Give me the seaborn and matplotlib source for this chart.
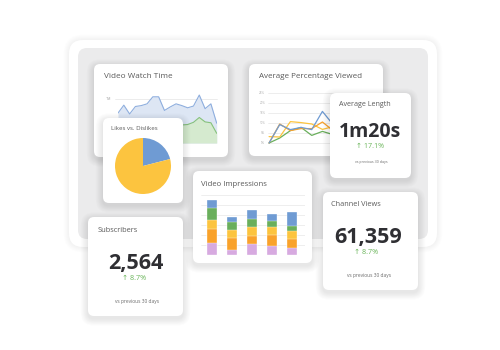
import matplotlib
matplotlib.use("Agg")
import matplotlib.pyplot as plt
from matplotlib.patches import FancyBboxPatch
import numpy as np
import pandas as pd
import seaborn as sns

sns.set_theme(style="white")
plt.rcParams['font.family'] = ['Open Sans', 'DejaVu Sans']

# ---------------- data ----------------
watch_days = list(range(18))
watch_blue = [0.68, 0.86, 0.66, 0.83, 0.85, 0.89, 1.05, 1.05, 0.74, 0.82,
              0.89, 0.85, 0.80, 0.84, 1.09, 0.78, 0.89, 0.45]
watch_green = [0.35, 0.40, 0.33, 0.38, 0.40, 0.42, 0.45, 0.43, 0.36, 0.38,
               0.40, 0.41, 0.42, 0.47, 0.58, 0.48, 0.46, 0.22]
watch_ticks = [1.0]
watch_ticklabels = ["1M"]

apv_points = list(range(7))
apv_blue = [0.0, 9.2, 6.7, 7.8, 6.7, 15.8, 9.2]
apv_orange = [0.0, 9.5, 6.2, 7.2, 7.2, 10.5, 6.2]
apv_yellow = [3.2, 3.0, 10.7, 10.2, 9.5, 6.8, 8.2]
apv_green = [0.0, 2.5, 6.2, 7.8, 3.8, 5.8, 4.2]
apv_ticks = [0, 5, 10, 15, 20, 25]
apv_ticklabels = ["0%", "5%", "10%", "15%", "20%", "25%"]

likes_labels = ["Dislikes", "Likes"]
likes_values = [21, 79]

imp_bars = ["W1", "W2", "W3", "W4", "W5"]
imp_segments = ["purple", "orange", "yellow", "green", "blue"]
imp_purple = [12, 5, 11, 9, 7]
imp_orange = [14, 12, 8, 11, 9]
imp_yellow = [9, 8, 9, 8, 8]
imp_green = [12, 8, 8, 6, 5]
imp_blue = [8, 5, 9, 7, 14]

kpi_titles = ["Average Length", "Subscribers", "Channel Views"]
kpi_values = ["1m20s", "2,564", "61,359"]
kpi_changes = ["\u2191 17.1%", "\u2191 8.7%", "\u2191 8.7%"]
kpi_note = "vs previous 30 days"

# ---------------- colours ----------------
BLUE = "#6f9bd3"
GREEN = "#6aaf5c"
YELLOW = "#fcc43f"
ORANGE = "#f9a22b"
PURPLE = "#d7aae0"
UP = "#6ab55a"
TITLE = "#5a5a5a"
DARK = "#2f2f33"

W, H = 500, 350
fig = plt.figure(figsize=(5, 3.5), dpi=100)
fig.patch.set_facecolor("white")


def rect(x0, y0, x1, y1):
    return [x0 / W, 1 - y1 / H, (x1 - x0) / W, (y1 - y0) / H]


def overlay(z):
    ax = fig.add_axes([0, 0, 1, 1])
    ax.set_xlim(0, W)
    ax.set_ylim(H, 0)
    ax.axis("off")
    ax.patch.set_alpha(0)
    ax.set_zorder(z)
    return ax


def card(ax, x0, y0, x1, y1, r=6, fc="white", shadow=True, layers=8, a=0.010, dy=2.5):
    if shadow:
        for i in range(layers, 0, -1):
            e = i * 0.9
            ax.add_patch(FancyBboxPatch((x0 - e, y0 - e + dy), (x1 - x0) + 2 * e, (y1 - y0) + 2 * e,
                                        boxstyle=f"round,pad=0,rounding_size={r + e}",
                                        fc="black", ec="none", alpha=a))
    ax.add_patch(FancyBboxPatch((x0, y0), x1 - x0, y1 - y0,
                                boxstyle=f"round,pad=0,rounding_size={r}", fc=fc, ec="none"))


def chart_ax(x0, y0, x1, y1, z=1):
    ax = fig.add_axes(rect(x0, y0, x1, y1))
    ax.patch.set_alpha(0)
    ax.set_zorder(z)
    for s in ax.spines.values():
        s.set_visible(False)
    return ax


# ---------------- background layer ----------------
bg = overlay(0)
card(bg, 69, 40, 437, 247, r=14, layers=6, a=0.008, dy=0)
card(bg, 78, 48, 428, 239, r=9, fc="#ebebec", shadow=False)

card(bg, 94, 64, 228, 157)      # Video Watch Time
card(bg, 249, 64, 383, 156)     # Average Percentage Viewed
card(bg, 193, 171, 312, 263)    # Video Impressions
card(bg, 88, 217, 183, 316)     # Subscribers
card(bg, 323, 192, 418, 290)    # Channel Views

bg.text(104, 77, "Video Watch Time", fontsize=5.9, color=TITLE, va="center", ha="left")
bg.text(259, 77, "Average Percentage Viewed", fontsize=5.8, color=TITLE, va="center", ha="left")
bg.text(201, 184, "Video Impressions", fontsize=5.6, color=TITLE, va="center", ha="left")

for (tx, ty, cx, vy, py, ny), title, val, chg in zip(
        [(98, 230, 136, 263, 278, 301), (331, 205, 368, 238, 253, 276)],
        kpi_titles[1:], kpi_values[1:], kpi_changes[1:]):
    bg.text(tx, ty, title, fontsize=5.3, color=TITLE, va="center", ha="left")
    bg.text(cx, vy, val, fontsize=15.5, color=DARK, fontweight="bold", va="center", ha="center")
    bg.text(cx - 2, py, chg, fontsize=5.2, color=UP, va="center", ha="center",
            family=["Open Sans", "DejaVu Sans"])
    bg.text(cx + 1, ny, kpi_note, fontsize=3.5, color="#6a6a6a", va="center", ha="center")

# ---------------- Video Watch Time ----------------
ax_w = chart_ax(118, 92.4, 216.7, 143)
wdf = pd.DataFrame({"day": watch_days, "views": watch_blue, "likes": watch_green})
ax_w.fill_between(wdf["day"], 0, wdf["views"], color="#dde6f4", lw=0)
ax_w.fill_between(wdf["day"], 0, wdf["likes"], color="#d5eacf", lw=0)
sns.lineplot(data=wdf, x="day", y="views", ax=ax_w, color="#8eaede", lw=0.8)
sns.lineplot(data=wdf, x="day", y="likes", ax=ax_w, color="#86c27b", lw=0.8)
ax_w.set_xlim(0, 17)
ax_w.set_ylim(0, 1.15)
ax_w.set_yticks(watch_ticks)
ax_w.set_yticklabels(watch_ticklabels, fontsize=2.6, color="#999999")
ax_w.set_xticks([])
ax_w.tick_params(axis="y", length=0, pad=5)
ax_w.axhline(1.0, color="#e4e4e4", lw=0.5, zorder=0, xmin=-0.03, clip_on=False)
ax_w.set_xlabel("")
ax_w.set_ylabel("")

# ---------------- Average Percentage Viewed ----------------
ax_a = chart_ax(268, 93, 375, 143)
adf = pd.DataFrame({
    "point": apv_points * 4,
    "value": apv_green + apv_yellow + apv_orange + apv_blue,
    "series": ["green"] * 7 + ["yellow"] * 7 + ["orange"] * 7 + ["blue"] * 7,
})
for y in apv_ticks:
    ax_a.axhline(y, color="#e6e6e6", lw=0.5, zorder=0)
sns.lineplot(data=adf, x="point", y="value", hue="series",
             palette={"green": GREEN, "yellow": YELLOW, "orange": ORANGE, "blue": BLUE},
             legend=False, ax=ax_a, lw=0.9)
for ln in ax_a.lines:
    ln.set_clip_on(False)
ax_a.set_xlim(-0.1, 9.93)
ax_a.set_ylim(0, 25)
ax_a.set_yticks(apv_ticks)
ax_a.set_yticklabels(apv_ticklabels, fontsize=2.2, color="#aaaaaa")
ax_a.set_xticks([])
ax_a.tick_params(axis="y", length=0, pad=2)
ax_a.set_xlabel("")
ax_a.set_ylabel("")

# ---------------- Video Impressions (stacked) ----------------
ax_b = chart_ax(201, 195, 305, 255)
for y in range(0, 61, 10):
    ax_b.axhline(y, color="#e8e8e8", lw=0.5, zorder=0)
layers = [imp_purple, imp_orange, imp_yellow, imp_green, imp_blue]
colors = [PURPLE, ORANGE, YELLOW, GREEN, BLUE]
cum = np.cumsum(np.array(layers), axis=0)
for k in range(len(layers) - 1, -1, -1):
    bdf = pd.DataFrame({"bar": imp_bars, "total": cum[k]})
    sns.barplot(data=bdf, x="bar", y="total", color=colors[k], width=0.52,
                ax=ax_b, saturation=1, edgecolor="white", linewidth=0.25, zorder=2)
ax_b.set_xlim(-0.55, 4.65)
ax_b.set_ylim(0, 60)
ax_b.set_xticks([])
ax_b.set_yticks([])
ax_b.set_xlabel("")
ax_b.set_ylabel("")

# ---------------- overlay cards ----------------
top = overlay(2)
card(top, 103, 118, 183, 203)   # Likes vs Dislikes
card(top, 330, 93, 411, 178)    # Average Length
top.text(111, 128, "Likes vs. Dislikes", fontsize=4.4, color=TITLE, va="center", ha="left")
top.text(339, 105, kpi_titles[0], fontsize=5.1, color=TITLE, va="center", ha="left")
top.text(369.5, 132, kpi_values[0], fontsize=14, color=DARK, fontweight="bold", va="center", ha="center")
top.text(370, 146, kpi_changes[0], fontsize=5.1, color=UP, va="center", ha="center",
         family=["Open Sans", "DejaVu Sans"])
top.text(371, 162, kpi_note, fontsize=2.6, color="#6a6a6a", va="center", ha="center")

# ---------------- pie ----------------
ax_p = fig.add_axes(rect(115, 138, 171, 194))
ax_p.set_zorder(3)
ax_p.patch.set_alpha(0)
ax_p.pie(likes_values, colors=[BLUE, YELLOW], startangle=90, counterclock=False,
         radius=1, wedgeprops=dict(linewidth=0))
ax_p.set_xlim(-1, 1)
ax_p.set_ylim(-1, 1)
ax_p.axis("off")

fig.savefig("out.png", dpi=100, facecolor="white")
